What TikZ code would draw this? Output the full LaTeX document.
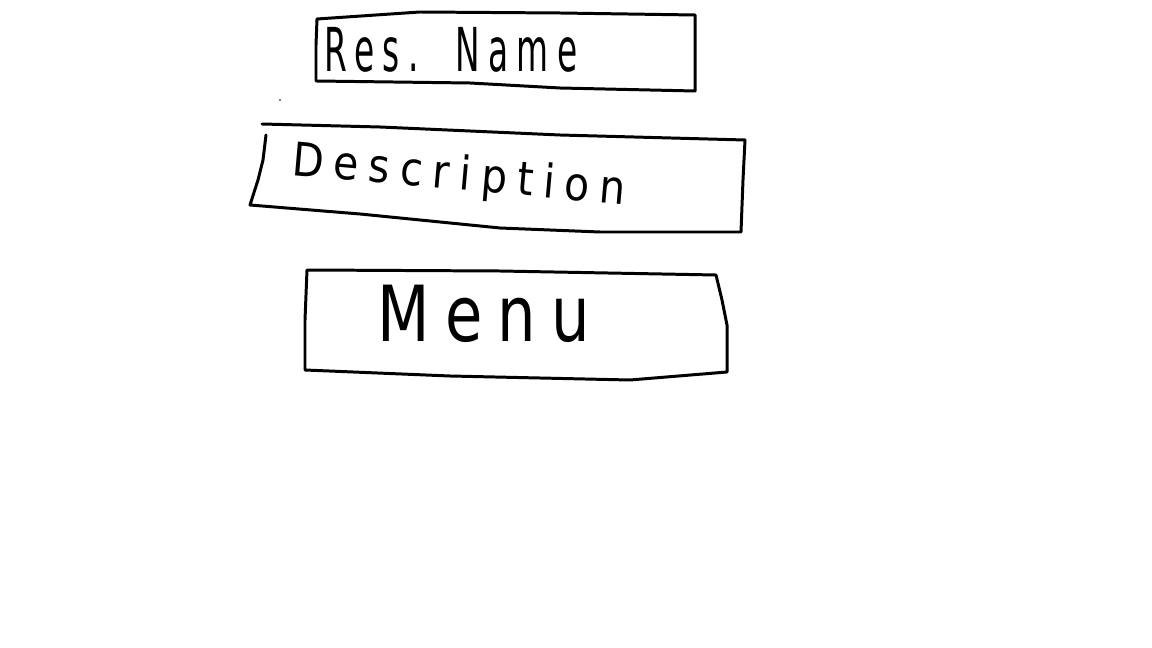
\documentclass[tikz,border=0pt]{standalone}
\usepackage{fontspec}
\setmainfont{DejaVu Sans}[LetterSpace=25]
\usepackage{graphicx}
\begin{document}
\begin{tikzpicture}[x=0.02cm,y=-0.02cm,
  sketch/.style={line width=1.7pt,line join=round,line cap=round},
  label/.style={inner sep=0pt,font=\fontsize{30}{36}\selectfont}]
\useasboundingbox[fill=white] (0,0) rectangle (1152,648);
% box 1: Res. Name
\draw[sketch] (317,19) -- (420,12) -- (560,13) -- (695,15) -- (695,91)
  -- (560,88) -- (470,83) -- (316,81) -- (316,45) -- cycle;
\node[label] (resname) at (451,50) {\resizebox*{5.05cm}{0.9cm}{Res.\ \ Name}};
% speck
\fill (280,100) circle (0.8);
% box 2: Description
\draw[sketch] (262,124) -- (380,127) -- (560,135) -- (745,140) -- (743,180)
  -- (741,232) -- (600,232) -- (500,228) -- (360,214) -- (250,205)
  -- (258,180) -- (263,160) -- (266,135);
\node[label,rotate=-5] (desc) at (459,177) {\resizebox*{6.7cm}{0.9cm}{Description}};
% box 3: Menu
\draw[sketch] (307,270) -- (500,271) -- (716,275) -- (722,300) -- (727,325)
  -- (727,372) -- (630,380) -- (450,376) -- (305,370) -- (305,320) -- cycle;
\node[label] (menu) at (484,314) {\resizebox*{4.25cm}{1.15cm}{Menu}};
\end{tikzpicture}
\end{document}
